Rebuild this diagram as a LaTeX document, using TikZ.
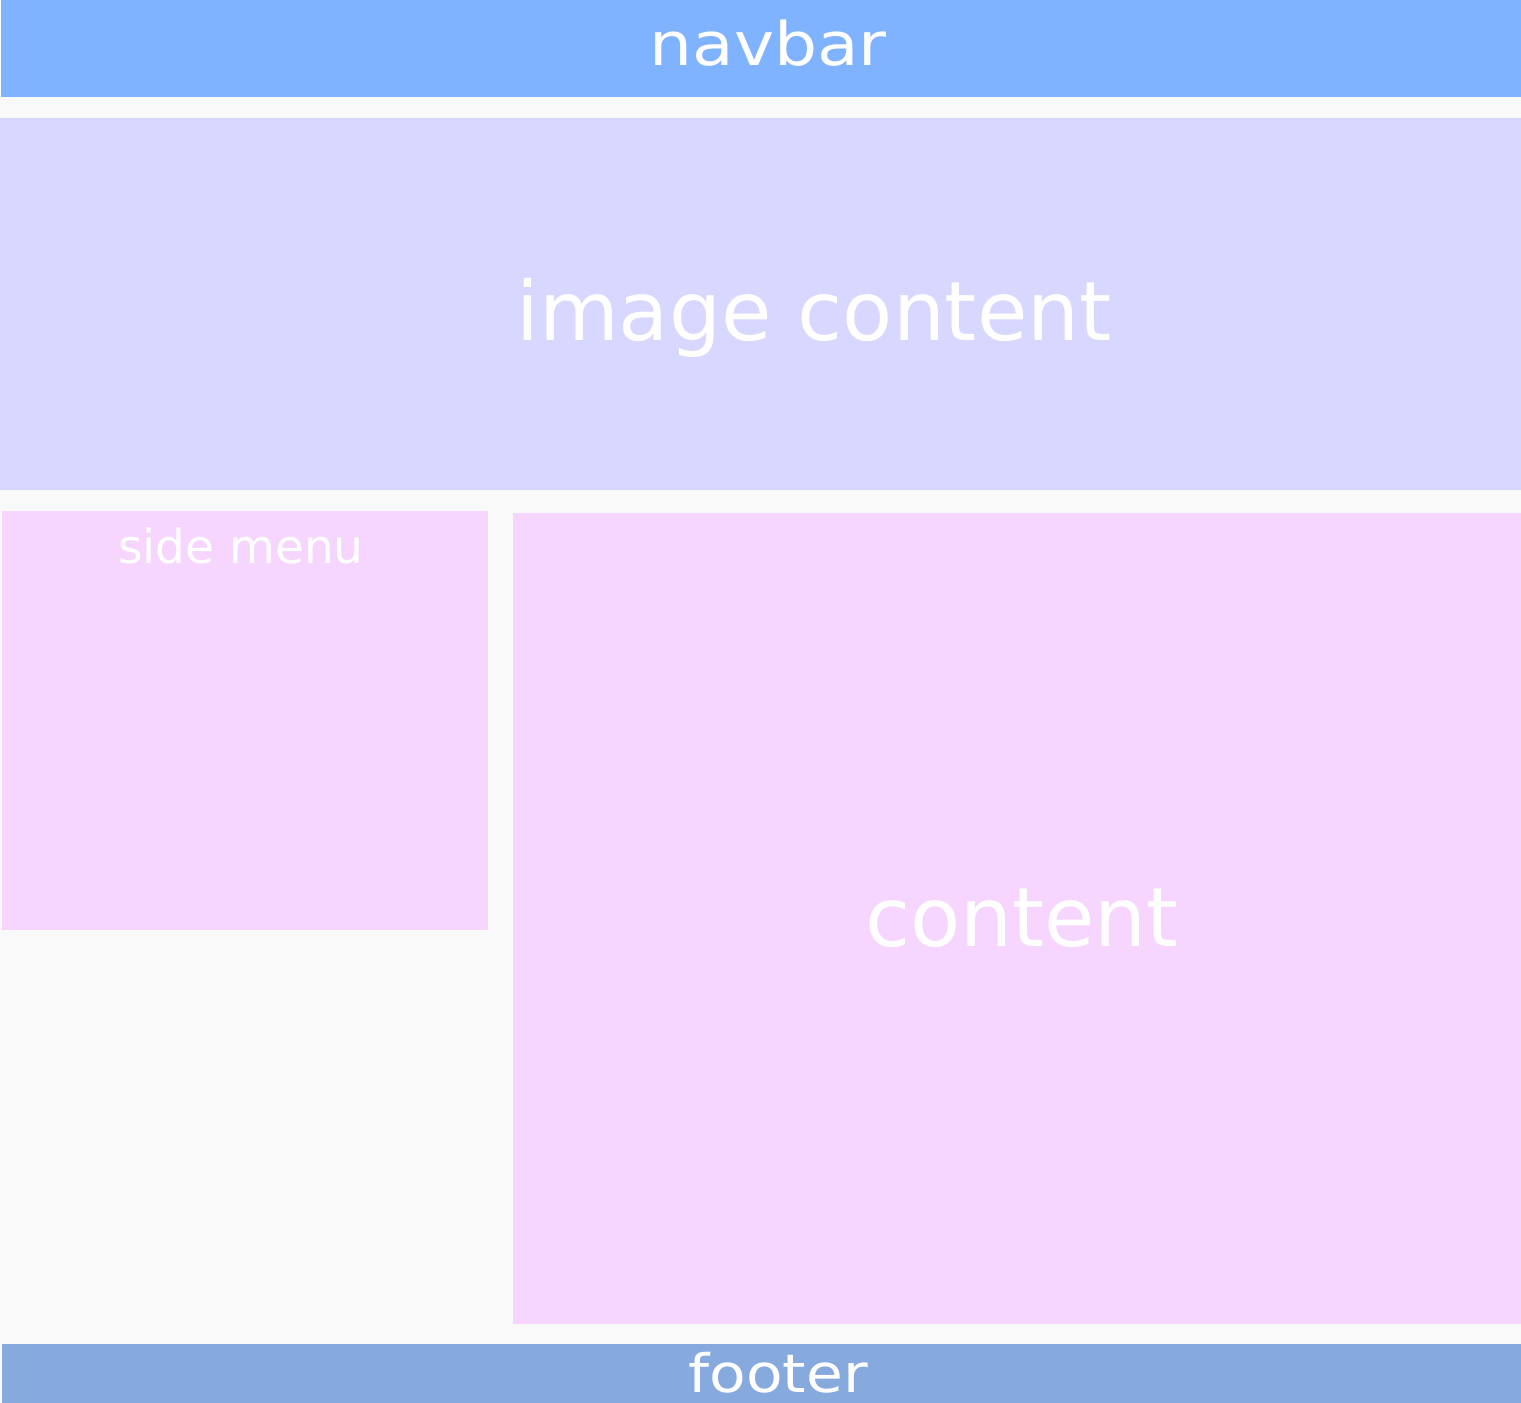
\documentclass[tikz,border=0pt]{standalone}
\usepackage{fontspec}
\setmainfont{DejaVu Sans}
\usetikzlibrary{positioning}
\definecolor{hintergrund}{RGB}{249, 249, 249}
\definecolor{navblau}{RGB}{128, 179, 255}
\definecolor{bildlila}{RGB}{215, 215, 255}
\definecolor{inhaltrosa}{RGB}{246, 213, 255}
\definecolor{fussblau}{RGB}{135, 170, 222}

\tikzset{
    beschriftung/.style={white, anchor=base, inner sep=0pt},
}

\begin{document}
\begin{tikzpicture}[x=1pt, y=-1pt]

    \useasboundingbox (0,0) rectangle (1521,1403);
    \fill[hintergrund] (0,0) rectangle (1521,1403);

    % Leisten oben und unten
    \fill[navblau] (1,0) rectangle (1521,97);
    \fill[fussblau] (2,1344) rectangle (1521,1403);

    % Bereiche
    \fill[bildlila] (0,118) rectangle (1521,490);
    \fill[inhaltrosa] (2,511) rectangle (488,930);
    \fill[inhaltrosa] (513,513) rectangle (1521,1324);

    \node[beschriftung, xscale=1.13, font=\fontsize{60}{72}\selectfont] (navbar) at (768,65) {navbar};
    \node[beschriftung, font=\fontsize{82}{98}\selectfont] (bild) at (814,340) {image content};
    \node[beschriftung, font=\fontsize{47}{56}\selectfont] (seite) at (241,563) {side menu};
    \node[beschriftung, font=\fontsize{82}{98}\selectfont] (inhalt) at (1022,946) {content};
    \node[beschriftung, xscale=1.13, font=\fontsize{53}{64}\selectfont] (fuss) at (778,1392) {footer};

\end{tikzpicture}
\end{document}
